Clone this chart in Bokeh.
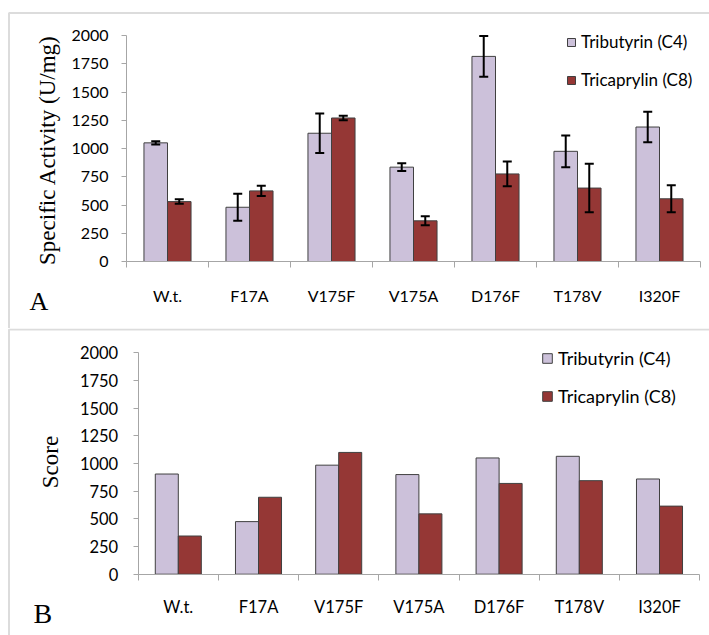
import numpy as np
from bokeh.plotting import figure
from bokeh.models import (ColumnDataSource, LinearAxis, FixedTicker, Whisker, TeeHead,
                          Legend, LegendItem, Label, BoxAnnotation, Range1d)
from bokeh.layouts import column
from bokeh.embed import file_html
from bokeh.resources import INLINE

# ---------------- data ----------------
mutants = ["W.t.", "F17A", "V175F", "V175A", "D176F", "T178V", "I320F"]
series_names = ["Tributyrin (C4)", "Tricaprylin (C8)"]

activity_c4 = [1050, 480, 1135, 835, 1815, 975, 1190]
activity_c4_err = [15, 120, 175, 35, 180, 140, 135]
activity_c8 = [530, 625, 1270, 360, 775, 650, 555]
activity_c8_err = [20, 45, 20, 40, 110, 215, 120]

score_c4 = [905, 475, 985, 900, 1050, 1065, 860]
score_c8 = [345, 695, 1100, 545, 820, 845, 615]

y_ticks = [0, 250, 500, 750, 1000, 1250, 1500, 1750, 2000]

LIGHT = "#CCC1DA"
DARK = "#953735"
EDGE = "#404040"
AXIS = "#A6A6A6"
FRAME = "#8C8C8C"
W = 709


def make_panel(height, x0_px, cat_px, y0_px, unit_px, c4, c8, err4, err8,
               ylabel, ylabel_pos, letter, letter_pos, letter_size,
               legend_pos, legend_font, legend_glyph, legend_spacing,
               box_px, cat_standoff, tick_font, tick_standoff):
    x_start = -x0_px / cat_px
    x_end = (W - x0_px) / cat_px
    y_start = (y0_px - height) / unit_px
    y_end = y0_px / unit_px
    p = figure(width=W, height=height, x_range=Range1d(x_start, x_end),
               y_range=Range1d(y_start, y_end), output_backend="svg",
               toolbar_location=None, x_axis_location=None, y_axis_location=None,
               min_border=0)
    p.grid.visible = False
    p.outline_line_color = None
    p.background_fill_color = "white"
    p.border_fill_color = "white"

    # panel frame (left and top edges)
    bl = x_start + box_px[0] / cat_px
    bt = (y0_px - box_px[1]) / unit_px
    p.add_layout(BoxAnnotation(left=bl, right=x_end + 5, top=bt, bottom=y_start - 1000,
                               fill_color=None, fill_alpha=0, line_color=FRAME, line_width=2))

    n = len(mutants)
    idx = np.arange(n)
    bw = 0.287
    x4 = idx + 0.5 - bw / 2
    x8 = idx + 0.5 + bw / 2
    r4 = p.vbar(x=x4, top=c4, bottom=0, width=bw, fill_color=LIGHT, line_color=EDGE, line_width=1)
    r8 = p.vbar(x=x8, top=c8, bottom=0, width=bw, fill_color=DARK, line_color=EDGE, line_width=1)

    for xs, vals, errs in ((x4, c4, err4), (x8, c8, err8)):
        if errs is None:
            continue
        v = np.array(vals, dtype=float)
        e = np.array(errs, dtype=float)
        src = ColumnDataSource(dict(base=xs, upper=v + e, lower=v - e))
        p.add_layout(Whisker(source=src, base="base", upper="upper", lower="lower",
                             line_color="black", line_width=2, level="overlay",
                             upper_head=TeeHead(size=9, line_width=2, line_color="black"),
                             lower_head=TeeHead(size=9, line_width=2, line_color="black")))

    # y axis
    yax = LinearAxis(fixed_location=0, ticker=FixedTicker(ticks=y_ticks), bounds=(0, 2000))
    yax.axis_line_color = AXIS
    yax.major_tick_line_color = AXIS
    yax.major_tick_out = 5
    yax.major_tick_in = 0
    yax.minor_tick_line_color = None
    yax.major_label_text_font = "Lato"
    yax.major_label_text_font_size = tick_font
    yax.major_label_text_color = "black"
    yax.major_label_standoff = tick_standoff
    p.add_layout(yax, "left")

    # x axis: tick marks at category boundaries
    xax = LinearAxis(fixed_location=0, ticker=FixedTicker(ticks=list(range(n + 1))), bounds=(0, n))
    xax.axis_line_color = AXIS
    xax.major_tick_line_color = AXIS
    xax.major_tick_out = 6
    xax.major_tick_in = 0
    xax.minor_tick_line_color = None
    xax.major_label_text_alpha = 0
    xax.major_label_text_font_size = "1px"
    p.add_layout(xax, "below")

    # x axis: category names at centres
    centres = [i + 0.5 for i in range(n)]
    lax = LinearAxis(fixed_location=0, ticker=FixedTicker(ticks=centres),
                     major_label_overrides={c: m for c, m in zip(centres, mutants)})
    lax.axis_line_color = None
    lax.major_tick_line_color = None
    lax.minor_tick_line_color = None
    lax.major_tick_out = 0
    lax.major_label_text_font = "Lato"
    lax.major_label_text_font_size = tick_font
    lax.major_label_text_color = "black"
    lax.major_label_standoff = cat_standoff
    p.add_layout(lax, "below")

    p.add_layout(Label(x=ylabel_pos[0], y=ylabel_pos[1], x_units="screen", y_units="screen",
                       text=ylabel, angle=np.pi / 2, text_align="center", text_baseline="middle",
                       text_font="Liberation Serif", text_font_size="23px", text_color="black"))
    p.add_layout(Label(x=letter_pos[0], y=letter_pos[1], x_units="screen", y_units="screen",
                       text=letter, text_align="left", text_baseline="alphabetic",
                       text_font="Liberation Serif", text_font_size=letter_size, text_color="black"))

    legend = Legend(items=[LegendItem(label=series_names[0], renderers=[r4]),
                           LegendItem(label=series_names[1], renderers=[r8])],
                    location=legend_pos, orientation="vertical",
                    glyph_width=legend_glyph, glyph_height=legend_glyph,
                    label_text_font="Lato", label_text_font_size=legend_font,
                    label_text_color="black", label_standoff=5, label_height=20,
                    spacing=legend_spacing, padding=0, margin=0,
                    border_line_color=None, background_fill_alpha=0)
    p.add_layout(legend)
    return p


p1 = make_panel(328, 126, 82, 261, 0.113, activity_c4, activity_c8, activity_c4_err, activity_c8_err,
                "Specific Activity (U/mg)", (47, 178.5), "A", (29, 27.3), "26px",
                (566, 238), "17px", 10, 17, (8.5, 12.5), 24, "16px", 13)
p2 = make_panel(307, 137.7, 80.2, 245.7, 0.1107, score_c4, score_c8, None, None,
                "Score", (49.5, 173.5), "B", (33, 22.5), "28px",
                (541, 228), "18px", 12, 16, (8.5, 1), 23, "16.5px", 15)

layout = column(p1, p2, spacing=0)
open("out.html", "w").write(file_html(layout, INLINE))
